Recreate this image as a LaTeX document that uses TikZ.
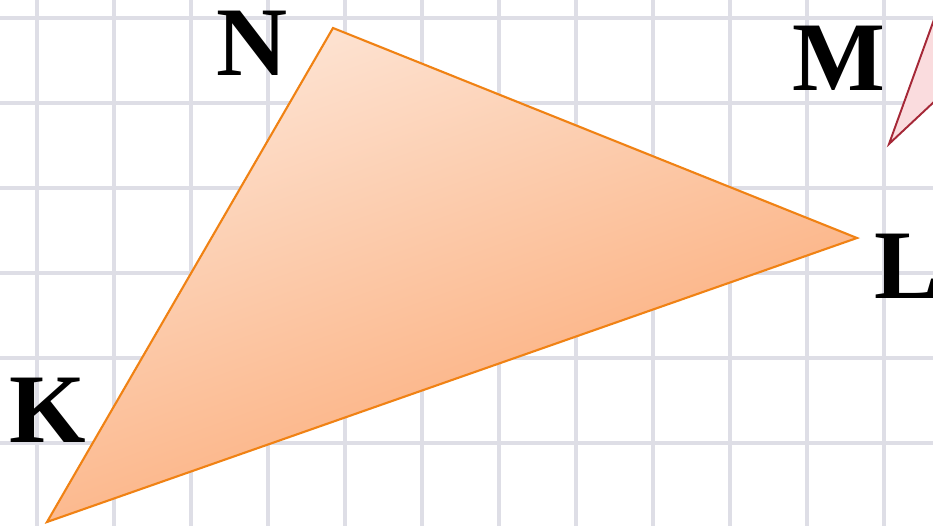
\documentclass[tikz,border=0pt]{standalone}
\usepackage{fontspec}
\setmainfont{Liberation Serif}
\usepackage{tikz}
\usetikzlibrary{positioning, calc}
\definecolor{gridgray}{RGB}{222, 222, 230}
\definecolor{peachtop}{RGB}{253, 228, 212}
\definecolor{peachbot}{RGB}{251, 164, 108}
\definecolor{edgeorange}{RGB}{240, 130, 20}
\definecolor{pinkfill}{RGB}{250, 220, 222}
\definecolor{edgered}{RGB}{165, 40, 55}

\begin{document}
\begin{tikzpicture}[
    x=0.02cm, y=-0.02cm,
    gridline/.style={draw=gridgray, line width=1.8pt},
    vlabel/.style={font=\fontsize{56}{60}\selectfont\bfseries, inner sep=0pt, anchor=center}
]

\fill[white] (0,0) rectangle (933,526);
\useasboundingbox (0,0) rectangle (933,526);

\foreach \i in {0,...,11}
    \draw[gridline] ({37+77*\i},0) -- ({37+77*\i},526);
\foreach \j in {0,...,5}
    \draw[gridline] (0,{18+85*\j}) -- (933,{18+85*\j});

\coordinate (K) at (47,522);
\coordinate (N) at (333,28);
\coordinate (L) at (857,238);
\coordinate (M) at (889,144);
\coordinate (Mtop) at (936,14);
\coordinate (Mright) at (936,100);

\path[draw=edgered, fill=pinkfill, line width=1.1pt] (Mtop) -- (M) -- (Mright);
\path[draw=edgeorange, line width=1.2pt, top color=peachtop, bottom color=peachbot, shading angle=20] (K) -- (N) -- (L) -- cycle;

\node[vlabel] (lblN) at (252,43) {N};
\node[vlabel] (lblM) at (839,58) {M};
\node[vlabel] (lblL) at (907,266) {L};
\node[vlabel] (lblK) at (48,410) {K};

\end{tikzpicture}
\end{document}
